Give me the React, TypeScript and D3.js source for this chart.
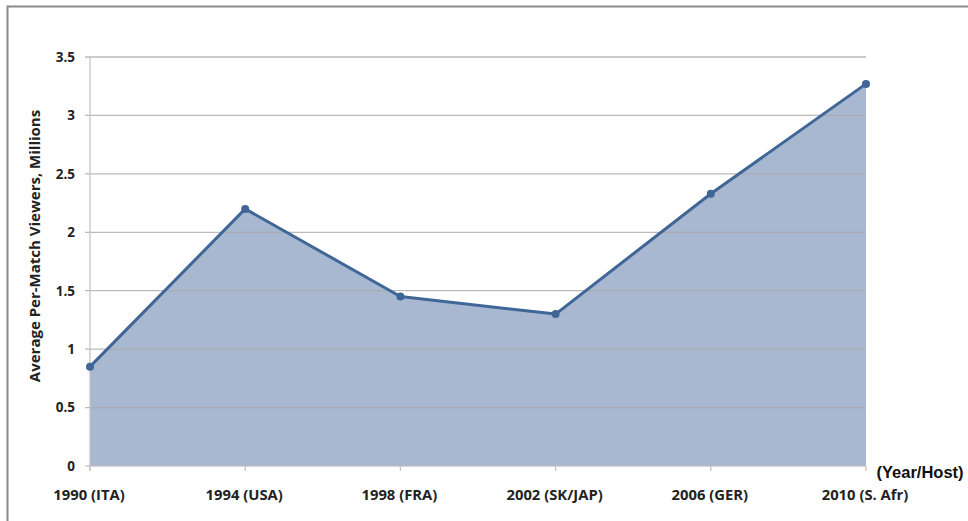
import React from "react";
import * as d3 from "d3";

const categories = ["1990 (ITA)", "1994 (USA)", "1998 (FRA)", "2002 (SK/JAP)", "2006 (GER)", "2010 (S. Afr)"];
const viewers = [0.85, 2.2, 1.45, 1.3, 2.33, 3.27];
const yTicks = [0, 0.5, 1, 1.5, 2, 2.5, 3, 3.5];
const yTickLabels = ["0", "0.5", "1", "1.5", "2", "2.5", "3", "3.5"];

export default function App() {
  const W = 968, H = 521;
  const left = 90, right = 866, top = 57, bottom = 466;
  const x = d3.scalePoint<string>().domain(categories).range([left, right]);
  const y = d3.scaleLinear().domain([0, 3.5]).range([bottom, top]);
  const data = categories.map((c, i) => ({ c, v: viewers[i] }));
  const area = d3.area<any>().x(d => x(d.c)!).y0(y(0)).y1(d => y(d.v));
  const line = d3.line<any>().x(d => x(d.c)!).y(d => y(d.v));
  const font = "'Open Sans', Lato, sans-serif";
  return (
    <svg width={W} height={H} style={{ position: "absolute", left: 0, top: 0, background: "#fff" }}>
      <rect x={7.5} y={6.5} width={W + 10} height={H + 10} fill="#fff" stroke="#8a8a8a" strokeWidth={2} />
      <path d={area(data)!} fill="#a7b8d0" />
      {yTicks.map((t, i) => (
        <g key={i}>
          <line x1={left - 5} x2={right} y1={y(t)} y2={y(t)} stroke={t === 0 ? "#bdbdbd" : "#a9a9a9"} strokeOpacity={0.8} strokeWidth={1.3} />
          <text x={left - 15} y={y(t)} dy="0.36em" textAnchor="end" fontFamily={font} fontWeight="bold" fontSize={13.5} fill="#222">{yTickLabels[i]}</text>
        </g>
      ))}
      <line x1={left} x2={left} y1={top} y2={bottom + 5} stroke="#c4c4c4" strokeWidth={1.3} />
      {categories.map((c, i) => (
        <g key={c}>
          <line x1={x(c)} x2={x(c)} y1={bottom} y2={bottom + 5} stroke="#c4c4c4" strokeWidth={1.3} />
          <text x={x(c)! - 1} y={500} textAnchor="middle" fontFamily={font} fontWeight="bold" fontSize={14.8} fill="#222">{c}</text>
        </g>
      ))}
      <path d={line(data)!} fill="none" stroke="#3f6697" strokeWidth={3} strokeLinejoin="round" />
      {data.map(d => (
        <circle key={d.c} cx={x(d.c)} cy={y(d.v)} r={4} fill="#3f6697" />
      ))}
      <text x={920} y={478} textAnchor="middle" fontFamily="'Liberation Sans', Arial, sans-serif" fontWeight="bold" fontSize={16.5} fill="#111">(Year/Host)</text>
      <text transform={`translate(40,246) rotate(-90)`} textAnchor="middle" fontFamily={font} fontWeight="bold" fontSize={15} fill="#222">Average Per-Match Viewers, Millions</text>
    </svg>
  );
}
